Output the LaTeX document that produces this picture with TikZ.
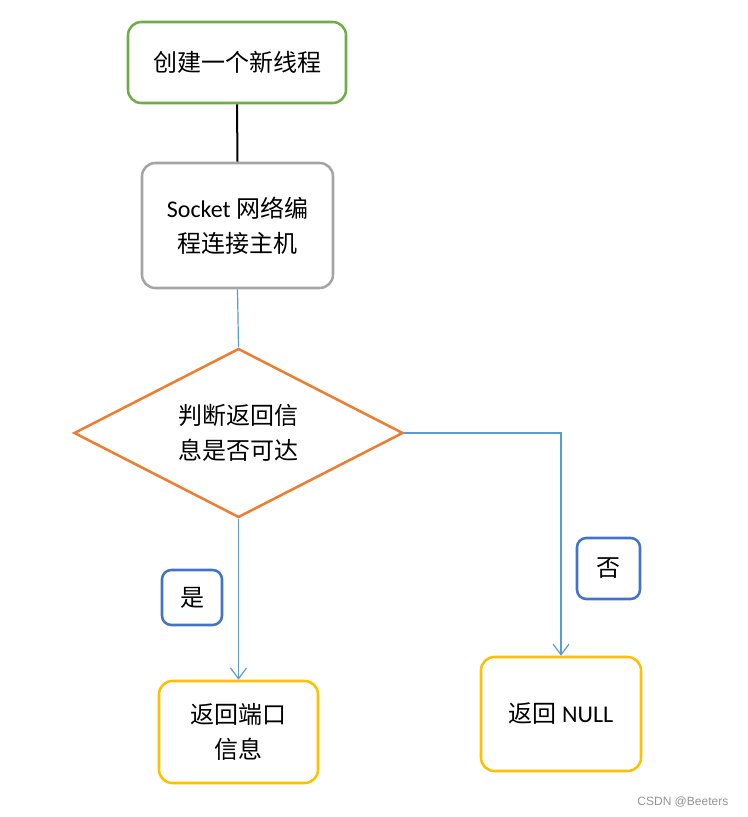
\documentclass[tikz,border=0pt]{standalone}
\usepackage{fontspec}
\setmainfont{Carlito}
\newfontfamily\cjk{Noto Sans CJK SC}
\newfontfamily\wm{Liberation Sans}
\usetikzlibrary{arrows.meta,shapes.geometric}
\definecolor{cgreen}{HTML}{70AD47}
\definecolor{cgray}{HTML}{A5A5A5}
\definecolor{corange}{HTML}{ED7D31}
\definecolor{cblue}{HTML}{4472C4}
\definecolor{clink}{HTML}{5B9BD5}
\definecolor{cyellow}{HTML}{FFC000}
\tikzset{
  px/.style={x=0.75pt,y=-0.75pt},
  txt/.style={font=\fontsize{18pt}{26pt}\selectfont,align=center},
  rbox/.style={draw=#1,line width=1.9pt,rounded corners=10pt,fill=white,inner sep=0pt,txt},
  link/.style={draw=clink,line width=0.9pt},
  arr/.style={link,-{Straight Barb[length=8pt,width=12pt,line width=0.9pt]}},
}
\begin{document}
\begin{tikzpicture}[px]
\useasboundingbox (0,0) rectangle (748,817);
\fill[white] (0,0) rectangle (748,817);
% boxes
\node[rbox=cgreen,minimum width=163.5pt,minimum height=60.75pt] (n1) at (237,62.5) {\cjk 创建一个新线程};
\node[rbox=cgray,minimum width=143.25pt,minimum height=93.75pt] (n2) at (237.5,225.5) {Socket {\cjk 网络编}\\{\cjk 程连接主机}};
\node[draw=corange,line width=1.9pt,diamond,aspect=1.95,inner sep=0pt,
  minimum width=246.75pt,minimum height=126.75pt,txt] (d) at (238.5,433) {\cjk 判断返回信\\\cjk 息是否可达};
\node[rbox=cblue,minimum width=45pt,minimum height=41.25pt,rounded corners=7pt] (yes) at (192,597.5) {\cjk 是};
\node[rbox=cblue,minimum width=47.25pt,minimum height=45.75pt,rounded corners=7pt] (no) at (608.5,568.5) {\cjk 否};
\node[rbox=cyellow,minimum width=119.25pt,minimum height=76.5pt] (n3) at (238.5,732) {\cjk 返回端口\\\cjk 信息};
\node[rbox=cyellow,minimum width=120pt,minimum height=85.5pt] (n4) at (561,714) {{\cjk 返回} NULL};
% connectors
\draw[line width=1.5pt,black] (n1.south) -- (n2.north);
\draw[link] (n2.south) -- (d.north);
\draw[arr] (d.south) -- (n3.north);
\draw[arr] (d.east) -| (n4.north);
% watermark
\node[font=\wm\fontsize{9pt}{10pt}\selectfont,text=gray!85,anchor=east] (wm) at (733,802) {CSDN @Beeters};
\end{tikzpicture}
\end{document}
